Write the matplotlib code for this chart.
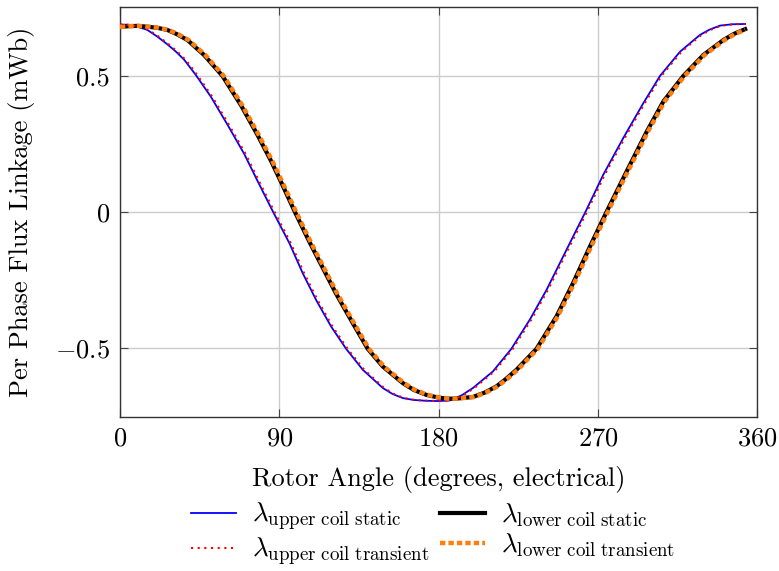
import matplotlib
matplotlib.use("Agg")
import matplotlib.pyplot as plt

plt.rcParams['font.family'] = 'cmr10'
plt.rcParams['mathtext.fontset'] = 'cm'
plt.rcParams['axes.formatter.use_mathtext'] = True

# rotor angle (deg, electrical) and per phase flux linkage (mWb)
ang_upper = [0, 5, 10, 15.5, 21, 26.8, 31.5, 36.2, 40, 43, 51.3, 60.8, 70.2, 78, 86.5, 95.7,
             103.2, 110.8, 119.3, 127.8, 137.2, 148.5, 154, 159.8, 166, 173, 180, 186.2,
             193, 199.4, 210.7, 221.1, 231.5, 241, 250.4, 257.9, 263, 273, 284.3, 295.7,
             305.1, 316.4, 327.7, 333, 339, 346, 353.2]
upper_static = [0.689, 0.688, 0.681, 0.669, 0.645, 0.616, 0.590, 0.560, 0.528, 0.502, 0.424,
                0.320, 0.213, 0.110, 0.0, -0.115, -0.225, -0.324, -0.422, -0.504, -0.581,
                -0.648, -0.670, -0.685, -0.692, -0.695, -0.696, -0.694, -0.675, -0.648,
                -0.587, -0.504, -0.397, -0.287, -0.164, -0.066, 0.0, 0.136, 0.271, 0.400,
                0.500, 0.589, 0.651, 0.670, 0.685, 0.690, 0.691]
ang_upper_tr = [0, 5.6, 10.7, 16.2, 21.8, 27.6, 32.3, 37, 40.8, 43.8, 52.1, 61.6, 71, 78.8,
                87.3, 96.5, 104, 111.6, 120.1, 128.6, 138, 149.3, 154.8, 160.6, 166.8, 173.8,
                180.8, 187, 193.8, 200.2, 211.5, 221.9, 232.3, 241.8, 251.2, 258.7, 263.8,
                273.8, 285.1, 296.5, 305.9, 317.2, 328.5, 333.8, 339.8, 346.8, 353.2]
upper_transient = upper_static

ang_lower = [0, 5, 10, 15.5, 21, 26.8, 32, 38.1, 47.5, 57.9, 68.3, 77.7, 85.3, 91, 98.8,
             107, 114.5, 122.1, 131.5, 140, 148.5, 159.8, 166, 173, 179, 184.4, 190, 199.4,
             206, 212.7, 218, 224, 235.3, 246.6, 256, 265.5, 274.9, 286.2, 297.6, 307,
             318.3, 329.6, 340.9, 347, 353.2]
lower_static = [0.680, 0.683, 0.684, 0.681, 0.677, 0.669, 0.654, 0.632, 0.577, 0.500, 0.393,
                0.283, 0.188, 0.110, 0.0, -0.110, -0.205, -0.301, -0.409, -0.504, -0.569,
                -0.630, -0.655, -0.673, -0.682, -0.687, -0.687, -0.681, -0.665, -0.642,
                -0.615, -0.581, -0.504, -0.385, -0.262, -0.128, 0.0, 0.148, 0.295, 0.406,
                0.500, 0.577, 0.632, 0.655, 0.672]
ang_lower_tr = [0, 5.7, 10.7, 16.2, 21.7, 27.5, 32.7, 38.8, 48.2, 58.6, 69, 78.4, 86, 91.7,
                99.5, 107.7, 115.2, 122.8, 132.2, 140.7, 149.2, 160.5, 166.7, 173.7, 179.7,
                185.1, 190.7, 200.1, 206.7, 213.4, 218.7, 224.7, 236, 247.3, 256.7, 266.2,
                275.6, 286.9, 298.3, 307.7, 319, 330.3, 341.6, 347.7, 353.2]
lower_transient = [0.680, 0.683, 0.684, 0.681, 0.677, 0.669, 0.654, 0.632, 0.577, 0.500,
                   0.393, 0.283, 0.188, 0.110, 0.0, -0.110, -0.205, -0.301, -0.409, -0.504,
                   -0.569, -0.630, -0.655, -0.673, -0.682, -0.687, -0.687, -0.681, -0.665,
                   -0.642, -0.615, -0.581, -0.504, -0.385, -0.262, -0.128, 0.0, 0.148, 0.295,
                   0.406, 0.500, 0.577, 0.632, 0.655, 0.670]

fig = plt.figure(figsize=(7.79, 5.71), dpi=100)
ax = fig.add_axes([0.154, 0.270, 0.818, 0.718])

ax.plot(ang_upper, upper_static, color='blue', lw=1.3,
        label=r'$\lambda_{\mathrm{upper\ coil\ static}}$', zorder=3)
ax.plot(ang_upper_tr, upper_transient, color='red', lw=1.5, linestyle=(0, (1.0, 2.2)),
        label=r'$\lambda_{\mathrm{upper\ coil\ transient}}$', zorder=4)
ax.plot(ang_lower, lower_static, color='black', lw=3.0,
        label=r'$\lambda_{\mathrm{lower\ coil\ static}}$', zorder=3)
ax.plot(ang_lower_tr, lower_transient, color='#ff7f0e', lw=3.2, linestyle=(0, (1.2, 0.7)),
        label=r'$\lambda_{\mathrm{lower\ coil\ transient}}$', zorder=4)

ax.set_xlim(0, 360)
ax.set_ylim(-0.754, 0.754)
ax.set_xticks([0, 90, 180, 270, 360])
ax.set_yticks([-0.5, 0, 0.5])
ax.set_yticklabels([r'$-0.5$', '0', '0.5'])
ax.tick_params(direction='in', top=True, right=True, labelsize=19, length=6,
               color='#444444', pad=7)
ax.grid(True, color='#cccccc', lw=1.0)
ax.set_axisbelow(True)
for s in ax.spines.values():
    s.set_color('#333333')
    s.set_linewidth(1.0)

ax.set_xlabel('Rotor Angle (degrees, electrical)', fontsize=19, labelpad=11)
ax.set_ylabel('Per Phase Flux Linkage (mWb)', fontsize=19, labelpad=15)

fig.legend(ncol=2, loc='upper center', bbox_to_anchor=(0.556, 0.156), frameon=False,
           fontsize=19.5, handlelength=1.65, columnspacing=0.4, labelspacing=0.1,
           handletextpad=0.6, borderpad=0.2)

fig.savefig('out.png', dpi=100)
